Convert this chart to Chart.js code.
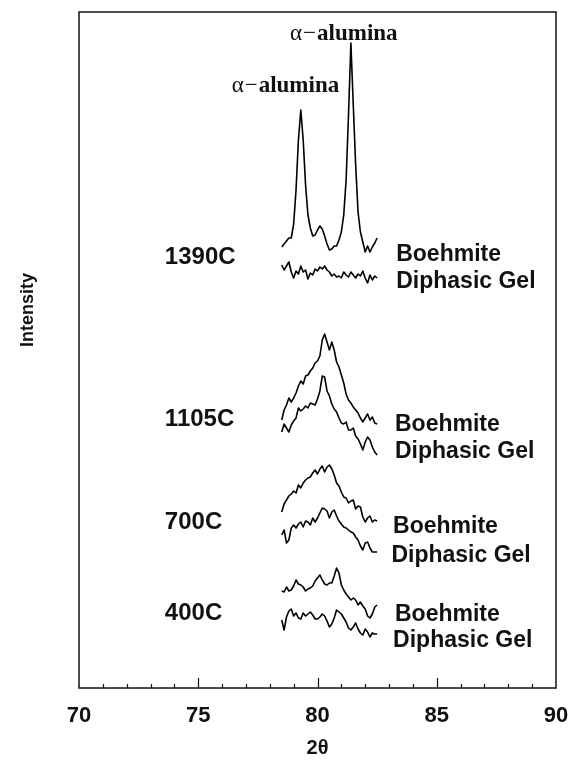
<!DOCTYPE html>
<html>
<head>
<meta charset="utf-8">
<script src="https://cdn.jsdelivr.net/npm/chart.js@4.4.0/dist/chart.umd.min.js"></script>
<style>
  html, body { margin: 0; padding: 0; background: #fff; }
  #wrap { width: 570px; height: 780px; }
</style>
</head>
<body>
<div id="wrap"><canvas id="xrd"></canvas></div>
<script>
// 2-theta sample positions (degrees)
const TWO_THETA = [
  78.5, 78.6, 78.7, 78.8, 78.9, 79.0, 79.1, 79.2, 79.3, 79.4,
  79.5, 79.6, 79.7, 79.8, 79.9, 80.0, 80.1, 80.2, 80.3, 80.4,
  80.5, 80.6, 80.7, 80.8, 80.9, 81.0, 81.1, 81.2, 81.3, 81.4,
  81.5, 81.6, 81.7, 81.8, 81.9, 82.0, 82.1, 82.2, 82.3, 82.4, 82.5
];

// intensities (arbitrary units, traces already offset for stacking)
const BOEHMITE_1390 = [
  441, 444, 447, 450, 450, 464, 498, 548, 578, 548,
  503, 473, 460, 452, 453, 458, 462, 459, 452, 444,
  438, 439, 442, 442, 448, 456, 473, 508, 573, 645,
  583, 523, 476, 456, 446, 436, 442, 436, 441, 445, 450
];
const GEL_1390 = [
  423, 418, 422, 426, 416, 410, 417, 414, 422, 416,
  418, 409, 415, 413, 419, 417, 421, 419, 422, 418,
  416, 412, 414, 411, 412, 410, 416, 413, 411, 416,
  413, 410, 414, 412, 417, 410, 405, 413, 408, 412, 410
];
const BOEHMITE_1105 = [
  268, 278, 283, 290, 286, 290, 295, 302, 307, 304,
  312, 313, 317, 320, 325, 327, 332, 348, 354, 346,
  338, 346, 338, 326, 321, 313, 305, 294, 288, 285,
  281, 278, 275, 270, 266, 270, 274, 268, 271, 265, 264
];
const GEL_1105 = [
  256, 264, 260, 256, 263, 267, 270, 280, 277, 279,
  282, 280, 285, 284, 283, 289, 297, 312, 311, 297,
  292, 284, 279, 276, 270, 265, 264, 266, 258, 258,
  260, 252, 249, 244, 238, 246, 251, 248, 241, 236, 233
];
const BOEHMITE_700 = [
  176, 184, 188, 192, 194, 197, 195, 203, 200, 205,
  208, 210, 211, 215, 218, 214, 219, 222, 216, 221,
  223, 219, 213, 205, 202, 196, 191, 190, 185, 187,
  188, 179, 182, 181, 171, 166, 170, 172, 166, 168, 167
];
const GEL_700 = [
  153, 158, 145, 148, 160, 163, 160, 164, 166, 161,
  167, 166, 163, 170, 166, 170, 175, 180, 179, 177,
  170, 176, 178, 172, 167, 164, 161, 160, 158, 156,
  155, 151, 148, 142, 138, 145, 146, 140, 136, 136, 136
];
const BOEHMITE_400 = [
  97, 96, 101, 97, 98, 102, 108, 104, 103, 101,
  97, 99, 100, 102, 107, 110, 113, 108, 104, 103,
  105, 105, 112, 120, 115, 103, 98, 94, 91, 88,
  90, 88, 83, 86, 82, 79, 72, 70, 74, 81, 83
];
const GEL_400 = [
  68, 58, 71, 77, 79, 72, 75, 70, 69, 75,
  72, 74, 76, 73, 69, 69, 71, 74, 72, 67,
  61, 64, 70, 78, 76, 74, 70, 66, 60, 58,
  61, 65, 59, 55, 53, 59, 56, 51, 55, 54, 54
];

const SERIES = [
  BOEHMITE_1390, GEL_1390, BOEHMITE_1105, GEL_1105,
  BOEHMITE_700, GEL_700, BOEHMITE_400, GEL_400
];

const X_TICKS = [70, 75, 80, 85, 90];

// text notes: [text, 2theta, intensity]
const TEMP_NOTES = [
  ["1390C", 73.6, 431], ["1105C", 73.6, 269], ["700C", 73.6, 166], ["400C", 73.6, 75]
];
const SAMPLE_NOTES = [
  ["Boehmite", 83.3, 433], ["Diphasic Gel", 83.3, 406],
  ["Boehmite", 83.25, 263], ["Diphasic Gel", 83.25, 236],
  ["Boehmite", 83.17, 161], ["Diphasic Gel", 83.1, 132],
  ["Boehmite", 83.25, 73], ["Diphasic Gel", 83.17, 47]
];
const PEAK_NOTES = [
  [76.4, 596], [78.85, 648]
];

const SANS = "'Liberation Sans', Arial, sans-serif";
const SERIF = "'Liberation Serif', 'Times New Roman', serif";

const decorPlugin = {
  id: "decor",
  afterDraw(chart) {
    const ctx = chart.ctx;
    const xs = chart.scales.x;
    const ys = chart.scales.y;
    const a = chart.chartArea;
    ctx.save();

    // frame
    ctx.strokeStyle = "#111";
    ctx.lineWidth = 1.5;
    ctx.strokeRect(a.left, a.top, a.right - a.left, a.bottom - a.top);

    // inward ticks on the bottom axis
    ctx.lineWidth = 1.2;
    for (let v = 71; v < 90; v++) {
      const px = Math.round(xs.getPixelForValue(v)) + 0.5;
      const len = v % 5 === 0 ? 10 : 4;
      ctx.beginPath();
      ctx.moveTo(px, a.bottom);
      ctx.lineTo(px, a.bottom - len);
      ctx.stroke();
    }

    ctx.fillStyle = "#111";
    ctx.textBaseline = "middle";
    ctx.textAlign = "left";

    ctx.font = "bold 24px " + SANS;
    TEMP_NOTES.forEach(([t, x, y]) => {
      ctx.fillText(t, xs.getPixelForValue(x), ys.getPixelForValue(y));
    });
    ctx.font = "bold 23px " + SANS;
    SAMPLE_NOTES.forEach(([t, x, y]) => {
      ctx.fillText(t, xs.getPixelForValue(x), ys.getPixelForValue(y));
    });

    // alpha-alumina peak labels
    ctx.textBaseline = "alphabetic";
    PEAK_NOTES.forEach(([x, y]) => {
      let px = xs.getPixelForValue(x);
      const py = ys.getPixelForValue(y);
      ctx.font = "23px " + SERIF;
      ctx.fillText("\u03B1", px, py);
      px += ctx.measureText("\u03B1").width + 1;
      ctx.fillText("\u2212", px, py);
      px += ctx.measureText("\u2212").width + 1;
      ctx.font = "bold 23px " + SERIF;
      ctx.fillText("alumina", px, py);
    });

    // y axis title
    ctx.save();
    ctx.translate(28, 310);
    ctx.rotate(-Math.PI / 2);
    ctx.textAlign = "center";
    ctx.textBaseline = "middle";
    ctx.font = "bold 18px " + SANS;
    ctx.fillText("Intensity", 0, 0);
    ctx.restore();

    ctx.restore();
  }
};

const datasets = SERIES.map((vals) => ({
  data: vals.map((v, i) => ({ x: TWO_THETA[i], y: v })),
  borderColor: "#000",
  borderWidth: 1.6,
  borderJoinStyle: "round",
  pointRadius: 0,
  tension: 0,
  fill: false
}));

new Chart(document.getElementById("xrd"), {
  type: "line",
  data: { datasets },
  plugins: [decorPlugin],
  options: {
    responsive: true,
    maintainAspectRatio: false,
    animation: false,
    layout: { padding: { left: 0, right: 14, top: 12, bottom: 0 } },
    plugins: { legend: { display: false }, tooltip: { enabled: false } },
    scales: {
      x: {
        type: "linear",
        min: 70,
        max: 90,
        afterBuildTicks: (s) => { s.ticks = X_TICKS.map((v) => ({ value: v })); },
        afterFit: (s) => {
          s.height = 92;
          s.paddingLeft = 0;
          s.paddingRight = 0;
        },
        grid: { display: false, drawTicks: false },
        border: { display: false },
        ticks: {
          color: "#111",
          padding: 15,
          maxRotation: 0,
          font: { family: SANS, size: 22, weight: "bold" }
        },
        title: {
          display: true,
          text: "2\u03B8",
          color: "#111",
          padding: { top: 0, bottom: 20 },
          font: { family: SANS, size: 20, weight: "bold" }
        }
      },
      y: {
        type: "linear",
        min: 0,
        max: 676,
        afterFit: (s) => { s.width = 79; },
        grid: { display: false, drawTicks: false },
        border: { display: false },
        ticks: { display: false }
      }
    }
  }
});
</script>
</body>
</html>
